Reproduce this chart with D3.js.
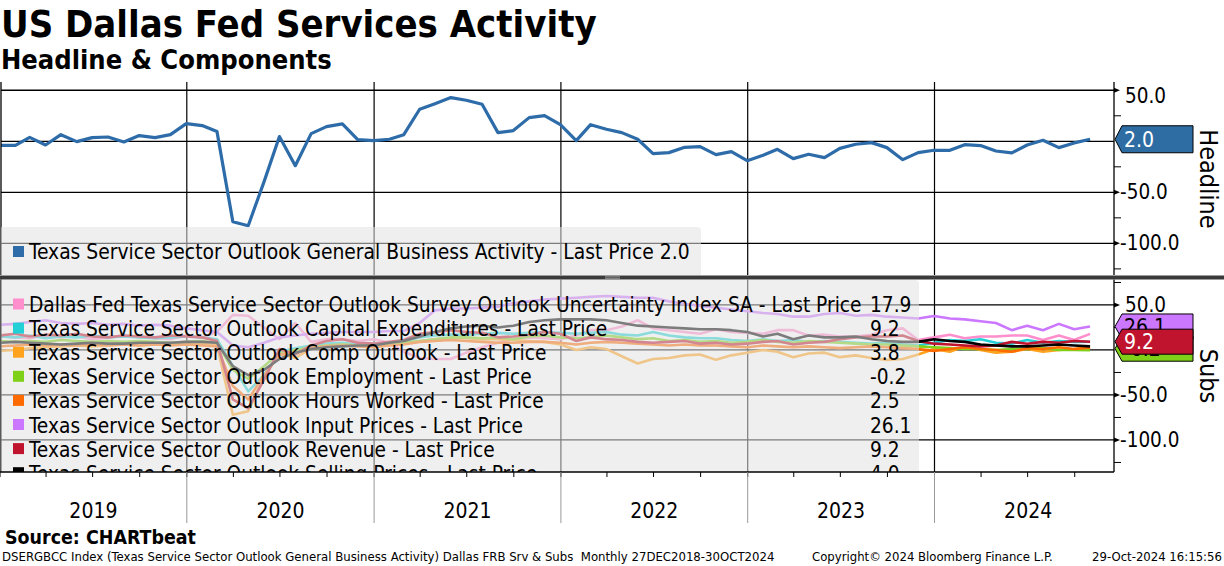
<!DOCTYPE html>
<html><head><meta charset="utf-8">
<script src="https://cdn.jsdelivr.net/npm/d3@7"></script>
<style>html,body{margin:0;padding:0;background:#fff;overflow:hidden}</style>
</head><body><svg id="c" width="1224" height="566"></svg>
<script>
// ---------------- DATA ----------------
const months = d3.timeMonth.range(new Date(2018,11,1), new Date(2024,10,1)); // Dec 2018 .. Oct 2024
const yearLabels = ["2019","2020","2021","2022","2023","2024"];
const headline = [-3.9,-3.9,3.9,-3.6,6.5,-0.3,3.6,4.2,-0.7,5.6,3.6,6.5,17.3,15.4,9.5,-78.8,-82.7,-39.5,4.6,-23.9,7.5,14.4,17.0,1.6,0.7,
  2.0,6.5,31.4,36.9,42.8,40.2,36.3,8.5,10.5,23.2,25.2,16.3,
  0.7,16.3,11.8,8.5,2.0,-12.1,-11.1,-5.9,-5.2,-13.1,-10.1,-19.0,
  -13.7,-7.8,-17.0,-12.7,-16.0,-6.9,-2.9,-1.3,-6.2,-18.0,-11.1,-8.8,
  -8.8,-3.3,-4.2,-9.5,-11.4,-3.6,1.0,-6.2,-1.6,2.0];
const uncertainty = [15,14,13,16,14,15,12,14,16,15,13,12,16, 14,20,39,38,25,12,30,9,12,12,10,12,
  8,-2,-9,-10,-10,-3,3,8,12,14,13,12, 16,22,22,26,33,24,22,20,18,23,20,19,
  18,22,22,16,17,15,15,17,22,24,11,14, 17,13,15,15,16,16,11,16,11,17.9];
const capex = [15,14,16,13,15,14,16,14,15,14,13,14,15, 14,12,-18,-46,-28,-2,2,5,7,8,6,7,
  7,9,14,16,17,17,18,19,18,19,20,19, 18,19,20,17,16,20,16,14,13,13,11,10,
  12,10,11,9,10,9,8,7,8,6,5,8, 11,10,12,8,7,11,8,10,9,9.2];
const compOutlook = [-1,0,2,3,4,5,4,5,6,5,6,7,6, 7,5,-72,-68,-30,-4,-9,2,5,6,5,4,
  6,7,10,12,13,13,12,12,11,10,9,6, 0,3,1,-7,-15,-10,-9,-6,-5,-11,-6,-3,
  0,-2,-8,-4,-3,-8,-6,-9,-11,-10,-5,1, -2,4,0,-3,-2,1,-2,0,1,3.8];
const employment = [10,9,10,9,11,10,9,10,9,10,9,8,9, 10,8,-22,-32,-18,-3,0,3,5,6,5,5,
  6,8,10,12,14,14,13,14,12,15,16,14, 13,14,16,14,12,13,10,11,9,10,8,9,
  11,9,8,10,9,8,7,6,6,5,4,3, 2,1,1,0,1,1,2,0,0,-0.2];
const hoursWorked = [4,5,6,5,6,5,6,5,6,5,6,5,6, 5,4,-40,-55,-28,-5,-3,2,4,5,4,3,
  5,6,9,10,11,10,9,8,8,9,9,8, 6,8,9,8,7,6,5,6,5,5,4,3,
  5,4,3,4,3,2,3,4,3,2,1,-1, 1,3,1,0,-2,2,1,3,1,2.5];
const inputPrices = [28,29,31,33,30,29,30,28,29,27,28,27,24, 22,20,5,3,8,14,16,18,19,20,20,20,
  21,21,30,44,46,46,47,48,52,54,56,57, 58,59,60,59,58,58,54,51,49,47,45,43,
  41,40,37,37,40,41,38,39,37,36,35,37.8, 35,34,32,30,22,27,22,29,23,26.1];
const revenue = [16,18,15,17,16,18,15,14,16,15,14,16,15, 14,10,-55,-65,-33,1,-5,5,10,12,8,7,
  9,11,18,20,22,20,19,14,15,17,20,18, 10,14,12,11,9,8,9,10,7,8,6,7,
  9,10,6,8,9,12,14,15,15,16,10,7, 6,5,4,5,9,7,9,8,10,9.2];
const sellingPrices = [8,9,8,7,6,7,8,7,7,8,8,8,9, 9,8,-18,-28,-22,-10,-3,1,3,4,5,5,
  8,10,15,20,24,26,27,25,27,31,33,34, 34,34,33,30,27,26,25,24,23,23,22,20,
  15,18,12,16,14,14,15,12,10,9,9,12, 10,9,6,5,4,4,5,6,5,4.0];
const subsNames = ["Dallas Fed Texas Service Sector Outlook Survey Outlook Uncertainty Index SA - Last Price",
  "Texas Service Sector Outlook Capital Expenditures - Last Price",
  "Texas Service Sector Outlook Comp Outlook - Last Price",
  "Texas Service Sector Outlook Employment - Last Price",
  "Texas Service Sector Outlook Hours Worked - Last Price",
  "Texas Service Sector Outlook Input Prices - Last Price",
  "Texas Service Sector Outlook Revenue - Last Price",
  "Texas Service Sector Outlook Selling Prices - Last Price"];
const subsValues = [uncertainty, capex, compOutlook, employment, hoursWorked, inputPrices, revenue, sellingPrices];
const subsColors = ["#ff8fcc","#22d0d6","#ffa31f","#7fd018","#ff6a00","#cc77ff","#c0142e","#000000"];
const subsLast = ["17.9","9.2","3.8","-0.2","2.5","26.1","9.2","4.0"];
const headlineName = "Texas Service Sector Outlook General Business Activity - Last Price 2.0";
const topTicks = [50,-50,-100], topMinor = [25,-25,-75,-125];
const botTicks = [50,-50,-100], botMinor = [75,25,-25,-75,-125];

// ---------------- LAYOUT ----------------
const FONT = "'DejaVu Sans Condensed','DejaVu Sans',sans-serif";
const svg = d3.select("#c").attr("font-family", FONT);
const R = 1114;
const dates = months.map(m => d3.timeDay.offset(d3.timeMonth.offset(m,1),-1));
const x = d3.scaleTime().domain([new Date(2019,0,1), new Date(2024,0,1)]).range([0, 934.5]);
const yTop = d3.scaleLinear().domain([-131, 58.1]).range([275, 82]);
const yBot = d3.scaleLinear().domain([-135.6, 78.3]).range([472, 279.5]);
const yearStarts = d3.timeYear.range(new Date(2019,0,1), new Date(2025,0,1));

function fitWidth(sel, w){ const cur = sel.node().getComputedTextLength(); const fs = parseFloat(sel.attr("font-size")); sel.attr("font-size", fs*w/cur); return fs*w/cur; }

// titles
fitWidth(svg.append("text").attr("x",1).attr("y",37).attr("font-size",34).attr("font-weight","bold").text("US Dallas Fed Services Activity"), 596);
fitWidth(svg.append("text").attr("x",1).attr("y",69).attr("font-size",25).attr("font-weight","bold").text("Headline & Components"), 331);

const defs = svg.append("defs");
defs.append("clipPath").attr("id","clipTop").append("rect").attr("x",1).attr("y",82).attr("width",R-1).attr("height",193);
defs.append("clipPath").attr("id","clipBot").append("rect").attr("x",1).attr("y",279.5).attr("width",R-1).attr("height",192.5);

function panel(y, ticks, minor, clipId){
  const g = svg.append("g");
  const gc = g.append("g").attr("clip-path",`url(#${clipId})`);
  gc.selectAll("line.h").data([...ticks, 0]).join("line")
    .attr("x1",0).attr("x2",R).attr("y1",d=>y(d)).attr("y2",d=>y(d)).attr("stroke","#000").attr("stroke-width",1.3);
  gc.selectAll("line.v").data(yearStarts.slice(1)).join("line")
    .attr("x1",d=>x(d)).attr("x2",d=>x(d)).attr("y1",y.range()[1]).attr("y2",y.range()[0]).attr("stroke","#000").attr("stroke-width",1.2);
  g.append("line").attr("x1",R).attr("x2",R).attr("y1",y.range()[1]).attr("y2",y.range()[0]).attr("stroke","#000").attr("stroke-width",1.3);
  g.append("line").attr("x1",1).attr("x2",1).attr("y1",y.range()[1]).attr("y2",y.range()[0]).attr("stroke","#000").attr("stroke-width",1.3);
  g.selectAll("path.arr").data(ticks).join("path")
    .attr("d",d=>`M${R},${y(d)-2.5}L${R+6},${y(d)}L${R},${y(d)+2.5}Z`).attr("fill","#000");
  g.selectAll("line.mn").data(minor).join("line")
    .attr("x1",R).attr("x2",R+7).attr("y1",d=>y(d)).attr("y2",d=>y(d)).attr("stroke","#000").attr("stroke-width",1);
  g.selectAll("text.tl").data(ticks).join("text")
    .attr("x",d=>d<0?1120:1125).attr("y",d=>y(d)+7 + (d>y.domain()[1]-12?6:0)).attr("font-size",20.5)
    .text(d=>d3.format(".1f")(d).replace("\u2212","-"));
  return gc;
}
const gTop = panel(yTop, topTicks, topMinor, "clipTop");
const gBot = panel(yBot, botTicks, botMinor, "clipBot");

gTop.append("path").datum(headline)
  .attr("d", d3.line().x((d,i)=>x(dates[i])).y(d=>yTop(d)))
  .attr("fill","none").attr("stroke","#2d6ca8").attr("stroke-width",3.2).attr("stroke-linejoin","round");

subsValues.forEach((vals,j)=>{
  gBot.append("path").datum(vals)
    .attr("d", d3.line().x((d,i)=>x(dates[i])).y(d=>yBot(d)))
    .attr("fill","none").attr("stroke",subsColors[j]).attr("stroke-width",2.6).attr("stroke-linejoin","round");
});

// legend top
const legTop = svg.append("g").attr("clip-path","url(#clipTop)");
legTop.append("rect").attr("x",-4).attr("y",227).attr("width",705).attr("height",60).attr("rx",4).attr("fill","#e2e2e2").attr("opacity",0.55);
legTop.append("rect").attr("x",13).attr("y",246).attr("width",11).attr("height",11).attr("fill","#2d6ca8");
fitWidth(legTop.append("text").attr("x",29).attr("y",259).attr("font-size",19).text(headlineName), 661);

// legend bottom
const legBot = svg.append("g").attr("clip-path","url(#clipBot)");
legBot.append("rect").attr("x",-4).attr("y",280).attr("width",923).attr("height",230).attr("rx",4).attr("fill","#e2e2e2").attr("opacity",0.55);
let lfs = 19;
subsNames.forEach((n,j)=>{
  const yb = 312 + 24.1*j;
  legBot.append("rect").attr("x",13).attr("y",yb-13.5).attr("width",11).attr("height",11).attr("fill",subsColors[j]);
  const t = legBot.append("text").attr("x",29).attr("y",yb).attr("font-size",lfs).text(n);
  if(j===0) lfs = fitWidth(t, 833); else t.attr("font-size", lfs);
  legBot.append("text").attr("x",870).attr("y",yb).attr("font-size",lfs).text(subsLast[j]);
});

// separator bar
svg.append("rect").attr("x",0).attr("y",275.5).attr("width",1224).attr("height",4).attr("fill","#3a3a3a");
svg.append("line").attr("x1",605).attr("x2",620).attr("y1",276.8).attr("y2",276.8).attr("stroke","#aaa").attr("stroke-width",0.8);
svg.append("line").attr("x1",605).attr("x2",620).attr("y1",278.3).attr("y2",278.3).attr("stroke","#aaa").attr("stroke-width",0.8);

// x-axis area
svg.append("line").attr("x1",0).attr("x2",R).attr("y1",472).attr("y2",472).attr("stroke","#000").attr("stroke-width",1.3);
const quarters = d3.timeMonth.every(3).range(new Date(2019,0,1), new Date(2024,11,31));
svg.selectAll("line.q").data(quarters).join("line")
  .attr("x1",d=>x(d)).attr("x2",d=>x(d)).attr("y1",472).attr("y2",477).attr("stroke","#000").attr("stroke-width",1);
svg.selectAll("line.yd").data(yearStarts.slice(1)).join("line")
  .attr("x1",d=>x(d)).attr("x2",d=>x(d)).attr("y1",472).attr("y2",523).attr("stroke","#999").attr("stroke-width",1);
svg.selectAll("text.yl").data(yearStarts).join("text")
  .attr("x",d=>(x(d)+x(d3.timeYear.offset(d,1)))/2).attr("y",518).attr("text-anchor","middle").attr("font-size",21)
  .text((d,i)=>yearLabels[i]);

// value tags
function tag(yc, h, fill, txt, txtColor){
  const g = svg.append("g");
  g.append("path").attr("d",`M${R+1},${yc}L${R+8},${yc-h/2}H1193V${yc+h/2}H${R+8}Z`).attr("fill",fill).attr("stroke","#000").attr("stroke-width",1);
  g.append("text").attr("x",1124).attr("y",yc+7.5).attr("font-size",21).attr("fill",txtColor).text(txt);
}
tag(yTop(2.0), 27, "#2e6da4", "2.0", "#fff");
tag(yBot(2.5)+1, 25, "#7fd018", subsLast[3], "#000");
tag(yBot(26.1), 25, "#cc77ff", subsLast[5], "#000");
tag(yBot(9.2), 25, "#c0142e", subsLast[6], "#fff");

// axis titles
svg.append("text").attr("transform","translate(1200,179) rotate(90)").attr("text-anchor","middle").attr("font-size",25).text("Headline");
svg.append("text").attr("transform","translate(1200,376) rotate(90)").attr("text-anchor","middle").attr("font-size",25).text("Subs");

// footer
fitWidth(svg.append("text").attr("x",5).attr("y",544).attr("font-size",18).attr("font-weight","bold").text("Source: CHARTbeat"), 191);
fitWidth(svg.append("text").attr("x",2).attr("y",561).attr("font-size",11.5).style("white-space","pre").text("DSERGBCC Index (Texas Service Sector Outlook General Business Activity) Dallas FRB Srv & Subs  Monthly 27DEC2018-30OCT2024"), 773);
fitWidth(svg.append("text").attr("x",812).attr("y",561).attr("font-size",11.5).text("Copyright\u00a9 2024 Bloomberg Finance L.P."), 241);
fitWidth(svg.append("text").attr("x",1092).attr("y",561).attr("font-size",11.5).text("29-Oct-2024 16:15:56"), 130);
</script></body></html>
